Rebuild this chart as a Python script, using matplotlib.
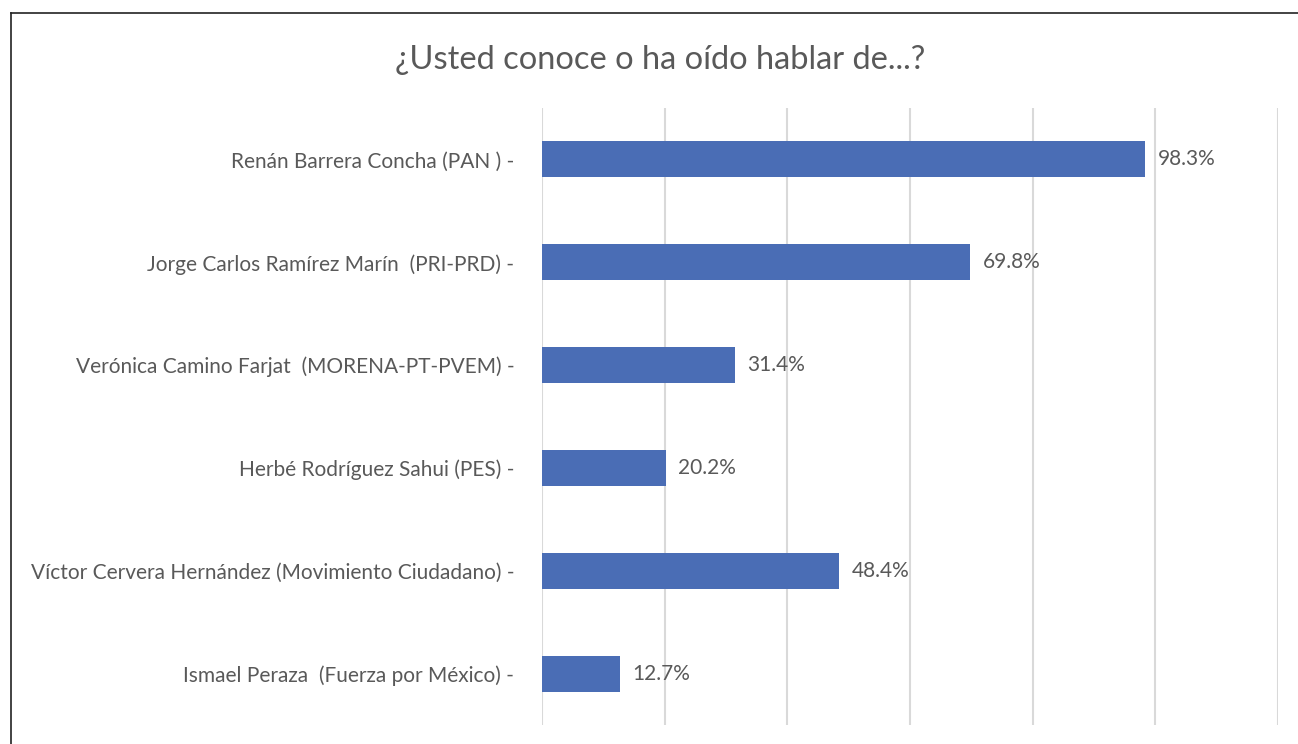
import matplotlib
matplotlib.use("Agg")
import matplotlib.pyplot as plt
from matplotlib.lines import Line2D

categories = [
    "Renán Barrera Concha (PAN )",
    "Jorge Carlos Ramírez Marín  (PRI-PRD)",
    "Verónica Camino Farjat  (MORENA-PT-PVEM)",
    "Herbé Rodríguez Sahui (PES)",
    "Víctor Cervera Hernández (Movimiento Ciudadano)",
    "Ismael Peraza  (Fuerza por México)",
]
values = [98.3, 69.8, 31.4, 20.2, 48.4, 12.7]
value_labels = ["98.3%", "69.8%", "31.4%", "20.2%", "48.4%", "12.7%"]
xticks = [0, 20, 40, 60, 80, 100, 120]

W, H = 1298, 744
plt.rcParams['font.family'] = ['Lato', 'DejaVu Sans']
fig = plt.figure(figsize=(W / 100, H / 100), dpi=100)
fig.patch.set_facecolor('white')

ax = fig.add_axes([542 / W, 1 - 725 / H, (1278 - 542) / W, (725 - 108) / H])
ypos = list(range(len(categories)))
ax.barh(ypos, values, height=0.35, color='#4a6db5', zorder=3)
ax.set_ylim(len(categories) - 0.5, -0.5)
ax.set_xlim(0, 120)
ax.set_xticks(xticks)
ax.set_xticklabels([])
ax.tick_params(axis='x', length=0)
ax.grid(axis='x', color='#d9d9d9', linewidth=1.5, zorder=0)
ax.set_yticks(ypos)
ax.set_yticklabels([c + " -" for c in categories], fontsize=15, color='#595959')
ax.tick_params(axis='y', length=0, pad=20)
for s in ax.spines.values():
    s.set_visible(False)

for y, v, lab in zip(ypos, values, value_labels):
    ax.annotate(lab, (v, y), xytext=(9, 0), textcoords='offset points',
                va='center', ha='left', fontsize=15, color='#595959')

fig.text(660 / W, 1 - 60 / H, "¿Usted conoce o ha oído hablar de...?",
         ha='center', va='center', fontsize=23.5, color='#595959')

fig.add_artist(Line2D([11 / W, 1], [1 - 13 / H, 1 - 13 / H], transform=fig.transFigure,
                      color='#222222', linewidth=1.2))
fig.add_artist(Line2D([11 / W, 11 / W], [1 - 13 / H, 0], transform=fig.transFigure,
                      color='#222222', linewidth=1.2))

fig.savefig("out.png", dpi=100, facecolor='white')
